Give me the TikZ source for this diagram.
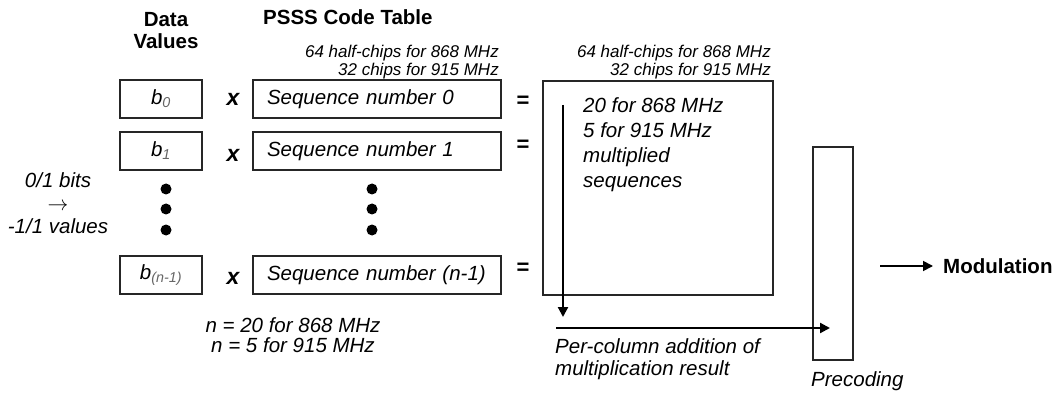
\documentclass[tikz,border=0pt]{standalone}
\usepackage{fontspec}
\setmainfont{Liberation Sans}
\usetikzlibrary{arrows.meta}

\tikzset{
  valbox/.style={draw=black!85, line width=1.2pt, minimum width=82pt, minimum height=38pt, inner sep=0pt},
  seqbox/.style={valbox, minimum width=248pt, text width=220pt, inner xsep=14pt, align=left, font=\mainfont\itshape},
  op/.style={font=\fontsize{23}{23}\selectfont\bfseries\itshape},
  eq/.style={font=\fontsize{22}{22}\selectfont\bfseries},
  small/.style={font=\fontsize{17}{17.5}\selectfont\itshape, inner sep=0pt},
  note/.style={font=\mainfont\itshape, inner sep=0pt},
  flow/.style={line width=2.2pt, -{Triangle[length=10pt,width=10pt]}},
  dotpt/.style={circle, fill, inner sep=0pt, minimum size=11pt}
}
\newcommand{\mainfont}{\fontsize{20.5}{22}\selectfont}
\newcommand{\bval}[1]{{\itshape b}\textsubscript{\itshape\color{black!60}#1}}

\begin{document}
\begin{tikzpicture}[x=1pt, y=-1pt, font=\mainfont]
\useasboundingbox (0,0) rectangle (1053,393);

\node[font=\mainfont\bfseries, align=center] (datahead) at (166,31) {Data\\Values};
\node[font=\mainfont\bfseries, anchor=west, inner sep=0pt] (tablehead) at (263,17) {PSSS Code Table};
\node[small, anchor=east, align=right] (seqlen) at (499,62) {64 half-chips for 868 MHz\\32 chips for 915 MHz};

\node[valbox] (b0) at (161,99) {\bval{0}};
\node[valbox] (b1) at (161,151) {\bval{1}};
\node[valbox] (bn) at (161,275) {\bval{(n-1)}};

\node[op] (x0) at (233,99) {x};
\node[op] (x1) at (233,155) {x};
\node[op] (xn) at (233,278) {x};

\node[seqbox] (seq0) at (377,99) {Sequence number 0};
\node[seqbox] (seq1) at (377,151) {Sequence number 1};
\node[seqbox] (seqn) at (377,275) {Sequence number (n-1)};

\node[eq] (eq0) at (523,102) {=};
\node[eq] (eq1) at (523,146) {=};
\node[eq] (eqn) at (523,269) {=};

\foreach \y [count=\i] in {189,209,230} {
  \node[dotpt] (dl\i) at (166,\y) {};
  \node[dotpt] (dm\i) at (372,\y) {};
}

\node[note, align=center, font=\fontsize{20.5}{23}\selectfont\itshape] (mapping) at (58,203) {0/1 bits\\\smash{$\rightarrow$}\\-1/1 values};
\node[note, align=center, font=\fontsize{20.5}{20}\selectfont\itshape] (ncount) at (293,335) {n = 20 for 868 MHz\\n = 5 for 915 MHz};

\node[draw=black!85, line width=1.2pt, minimum width=230pt, minimum height=214pt, inner sep=0pt] (table) at (658,188) {};
\node[small, anchor=east, align=right] (tablelen) at (771,62) {64 half-chips for 868 MHz\\32 chips for 915 MHz};
\node[note, anchor=west, align=left, font=\fontsize{20.5}{25}\selectfont\itshape] (tabletext) at (583,144.5) {20 for 868 MHz\\5 for 915 MHz\\multiplied\\sequences};

\node[draw=black!85, line width=1.2pt, minimum width=40pt, minimum height=213pt, inner sep=0pt] (precoding) at (833,253.5) {};
\node[note, anchor=west] (preclabel) at (811,381) {Precoding};

\coordinate (sumtop) at (563,105);
\coordinate (sumbot) at (563,317);
\coordinate (addstart) at (556,328);
\coordinate (addend) at (830,328);
\draw[flow] (sumtop) -- (sumbot);
\draw[flow] (addstart) -- (addend);
\node[note, anchor=west, align=left] (addtext) at (555,359) {Per-column addition of\\multiplication result};

\node[font=\mainfont\bfseries, anchor=west, inner sep=0pt] (modulation) at (943,266) {Modulation};
\coordinate (modstart) at (880,266);
\draw[flow, line width=1.8pt, shorten >=10pt] (modstart) -- (modulation.west);

\end{tikzpicture}
\end{document}
